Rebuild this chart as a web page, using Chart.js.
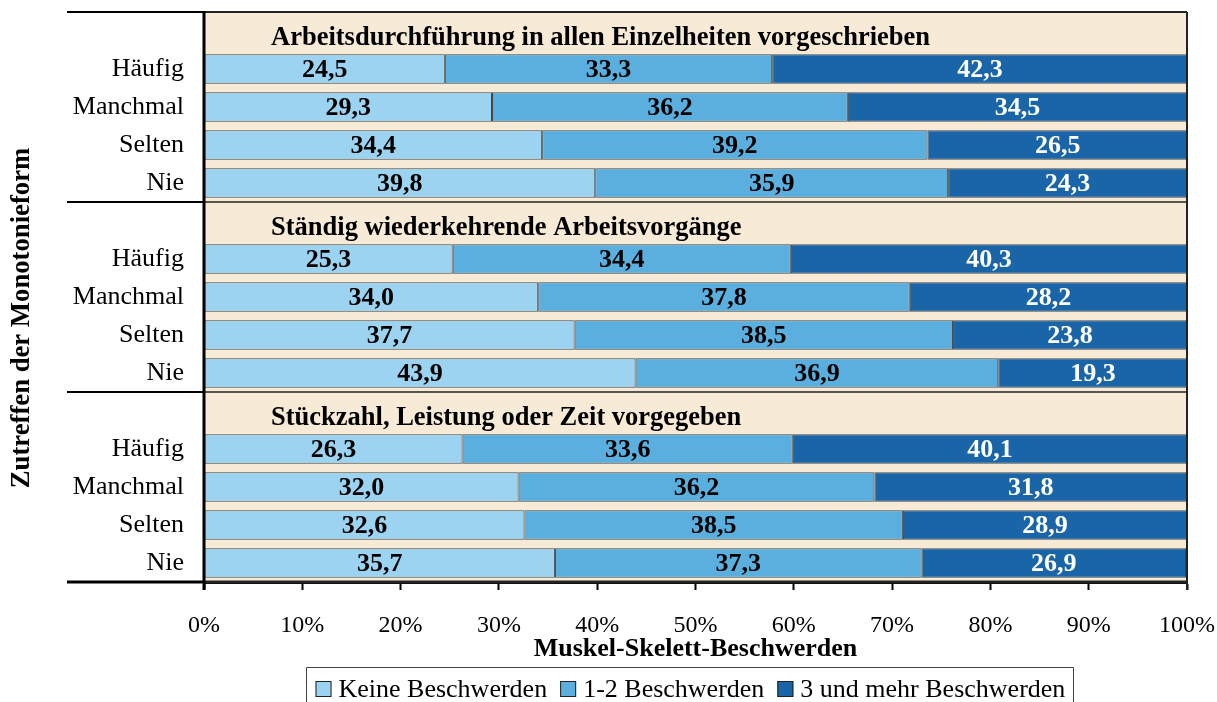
<!DOCTYPE html>
<html>
<head>
<meta charset="utf-8">
<script src="https://cdn.jsdelivr.net/npm/chart.js@4/dist/chart.umd.min.js"></script>
<style>
  html, body { margin: 0; padding: 0; background: #ffffff; }
  #wrap { width: 1217px; height: 702px; }
</style>
</head>
<body>
<div id="wrap"><canvas id="chart" width="1217" height="702"></canvas></div>
<script>
// Monotony forms (one block of rows each)
const groupTitles = [
  'Arbeitsdurchführung in allen Einzelheiten vorgeschrieben',
  'Ständig wiederkehrende Arbeitsvorgänge',
  'Stückzahl, Leistung oder Zeit vorgegeben'
];
// How often the form applies
const frequencyLabels = ['Häufig', 'Manchmal', 'Selten', 'Nie'];
// Series names
const seriesNames = ['Keine Beschwerden', '1-2 Beschwerden', '3 und mehr Beschwerden'];
// Shares in percent, per group in the order of frequencyLabels
const keineBeschwerden = [24.5, 29.3, 34.4, 39.8, 25.3, 34.0, 37.7, 43.9, 26.3, 32.0, 32.6, 35.7];
const einsBisZweiBeschwerden = [33.3, 36.2, 39.2, 35.9, 34.4, 37.8, 38.5, 36.9, 33.6, 36.2, 38.5, 37.3];
const dreiUndMehrBeschwerden = [42.3, 34.5, 26.5, 24.3, 40.3, 28.2, 23.8, 19.3, 40.1, 31.8, 28.9, 26.9];
// Axis
const xTickValues = [0, 10, 20, 30, 40, 50, 60, 70, 80, 90, 100];
const xAxisTitle = 'Muskel-Skelett-Beschwerden';
const yAxisTitle = 'Zutreffen der Monotonieform';

const seriesColors = ['#9BD3F0', '#5BAFDE', '#1A65A8'];
const labelColors = ['#000000', '#000000', '#ffffff'];
const SERIF = "'Liberation Serif', 'Times New Roman', serif";
const rowsPerGroup = frequencyLabels.length + 1;

// Each group gets a header row (its title) followed by the frequency rows
const rowLabels = [];
const headerRows = [];
groupTitles.forEach((t, g) => {
  headerRows.push(rowLabels.length);
  rowLabels.push('');
  frequencyLabels.forEach(f => rowLabels.push(f));
});
function expandRows(values) {
  const out = [];
  groupTitles.forEach((t, g) => {
    out.push(null);
    frequencyLabels.forEach((f, i) => out.push(values[g * frequencyLabels.length + i]));
  });
  return out;
}
const seriesValues = [keineBeschwerden, einsBisZweiBeschwerden, dreiUndMehrBeschwerden];

const formatValue = v => v.toFixed(1).replace('.', ',');

const backgroundAndFrame = {
  id: 'backgroundAndFrame',
  beforeDraw(chart) {
    const { ctx, chartArea: a } = chart;
    ctx.save();
    ctx.fillStyle = '#F7EBD7';
    ctx.fillRect(a.left, a.top, a.right - a.left, a.bottom - a.top);
    ctx.restore();
  },
  afterDatasetsDraw(chart) {
    const { ctx, chartArea: a, scales: { y } } = chart;
    const lineLeft = 67;
    const seg = (x1, y1, x2, y2) => { ctx.beginPath(); ctx.moveTo(x1, y1); ctx.lineTo(x2, y2); ctx.stroke(); };
    ctx.save();
    const bounds = [a.top];
    for (let g = 1; g < groupTitles.length; g++) {
      const i = g * rowsPerGroup;
      bounds.push((y.getPixelForValue(i - 1) + y.getPixelForValue(i)) / 2);
    }
    bounds.push(a.bottom);
    bounds.forEach((b, k) => {
      ctx.strokeStyle = '#000';
      ctx.lineWidth = k === bounds.length - 1 ? 3 : 2;
      seg(lineLeft, b, a.left, b);
      ctx.strokeStyle = '#222';
      ctx.lineWidth = k === bounds.length - 1 ? 3 : (k === 0 ? 2 : 1.5);
      seg(a.left, b, a.right, b);
    });
    // right frame edge
    ctx.strokeStyle = '#222';
    ctx.lineWidth = 2;
    seg(a.right, a.top, a.right, a.bottom + 8);
    // left axis line
    ctx.strokeStyle = '#000';
    ctx.lineWidth = 3;
    seg(a.left, a.top - 1, a.left, a.bottom + 8);
    ctx.restore();
  }
};

const valueLabels = {
  id: 'valueLabels',
  afterDatasetsDraw(chart) {
    const { ctx } = chart;
    ctx.save();
    ctx.font = `bold 26px ${SERIF}`;
    ctx.textAlign = 'center';
    ctx.textBaseline = 'middle';
    chart.data.datasets.forEach((ds, di) => {
      const meta = chart.getDatasetMeta(di);
      meta.data.forEach((el, i) => {
        const v = ds.data[i];
        if (v === null || v === undefined) return;
        ctx.fillStyle = labelColors[di];
        ctx.fillText(formatValue(v), (el.x + el.base) / 2, el.y + 1);
      });
    });
    ctx.restore();
  }
};

const groupHeaders = {
  id: 'groupHeaders',
  afterDatasetsDraw(chart) {
    const { ctx, scales: { y } } = chart;
    ctx.save();
    ctx.font = `bold 26.5px ${SERIF}`;
    ctx.fillStyle = '#000';
    ctx.textAlign = 'left';
    ctx.textBaseline = 'alphabetic';
    headerRows.forEach((r, g) => {
      ctx.fillText(groupTitles[g], 271, y.getPixelForValue(r) + 14);
    });
    ctx.restore();
  }
};

const yTitle = {
  id: 'yTitle',
  afterDraw(chart) {
    const { ctx } = chart;
    ctx.save();
    ctx.translate(22, 318);
    ctx.rotate(-Math.PI / 2);
    ctx.font = `bold 26.7px ${SERIF}`;
    ctx.fillStyle = '#000';
    ctx.textAlign = 'center';
    ctx.textBaseline = 'middle';
    ctx.fillText(yAxisTitle, 0, 0);
    ctx.restore();
  }
};

const boxedLegend = {
  id: 'boxedLegend',
  afterDraw(chart) {
    const { ctx } = chart;
    ctx.save();
    ctx.font = `26px ${SERIF}`;
    const box = 16, boxGap = 7, itemGap = 13, pad = 9;
    const widths = chart.data.datasets.map(ds => ctx.measureText(ds.label).width);
    const inner = widths.reduce((s, w) => s + w, 0) + widths.length * (box + boxGap) + (widths.length - 1) * itemGap;
    const centerX = 689.5;
    const left = Math.round(centerX - inner / 2 - pad) + 0.5;
    const right = Math.round(centerX + inner / 2 + pad) + 0.5;
    ctx.strokeStyle = '#444';
    ctx.lineWidth = 1;
    ctx.beginPath();
    ctx.moveTo(left, 710); ctx.lineTo(left, 667.5); ctx.lineTo(right, 667.5); ctx.lineTo(right, 710);
    ctx.stroke();
    let x = left + pad;
    const boxTop = 681;
    ctx.textBaseline = 'alphabetic';
    ctx.textAlign = 'left';
    chart.data.datasets.forEach((ds, i) => {
      ctx.fillStyle = ds.backgroundColor;
      ctx.fillRect(x, boxTop, box, box);
      ctx.strokeStyle = '#222';
      ctx.strokeRect(x + 0.5, boxTop + 0.5, box - 1, box - 1);
      x += box + boxGap;
      ctx.fillStyle = '#000';
      ctx.fillText(ds.label, x, 697);
      x += widths[i] + itemGap;
    });
    ctx.restore();
  }
};

new Chart(document.getElementById('chart'), {
  type: 'bar',
  data: {
    labels: rowLabels,
    datasets: seriesNames.map((name, i) => ({
      label: name,
      data: expandRows(seriesValues[i]),
      backgroundColor: seriesColors[i],
      borderColor: 'rgba(30, 40, 50, 0.85)',
      borderWidth: 1,
      borderSkipped: false,
      categoryPercentage: 1,
      barPercentage: 0.77
    }))
  },
  options: {
    indexAxis: 'y',
    responsive: false,
    animation: false,
    devicePixelRatio: 1,
    layout: { padding: { left: 0, right: 30, top: 12, bottom: 0 } },
    plugins: {
      legend: { display: false },
      tooltip: { enabled: false }
    },
    scales: {
      y: {
        stacked: true,
        grid: { display: false },
        border: { display: false },
        ticks: {
          color: '#000',
          font: { family: SERIF, size: 26 },
          padding: 12
        },
        afterFit(s) { s.width = 204; s.paddingTop = 0; s.paddingBottom = 0; }
      },
      x: {
        stacked: true,
        min: 0,
        max: 100,
        afterBuildTicks(s) { s.ticks = xTickValues.map(v => ({ value: v })); },
        grid: {
          display: true,
          drawOnChartArea: false,
          drawTicks: true,
          tickLength: 8,
          tickWidth: 2,
          tickColor: '#000'
        },
        border: { display: true, color: '#000', width: 3 },
        ticks: {
          color: '#000',
          font: { family: SERIF, size: 24 },
          padding: 21,
          maxRotation: 0,
          callback: v => v + '%'
        },
        title: {
          display: true,
          text: xAxisTitle,
          color: '#000',
          font: { family: SERIF, size: 26, weight: 'bold' },
          padding: { top: 0, bottom: 37 }
        },
        afterFit(s) { s.height = 120; s.paddingLeft = 0; s.paddingRight = 0; }
      }
    }
  },
  plugins: [backgroundAndFrame, valueLabels, groupHeaders, yTitle, boxedLegend]
});
</script>
</body>
</html>
